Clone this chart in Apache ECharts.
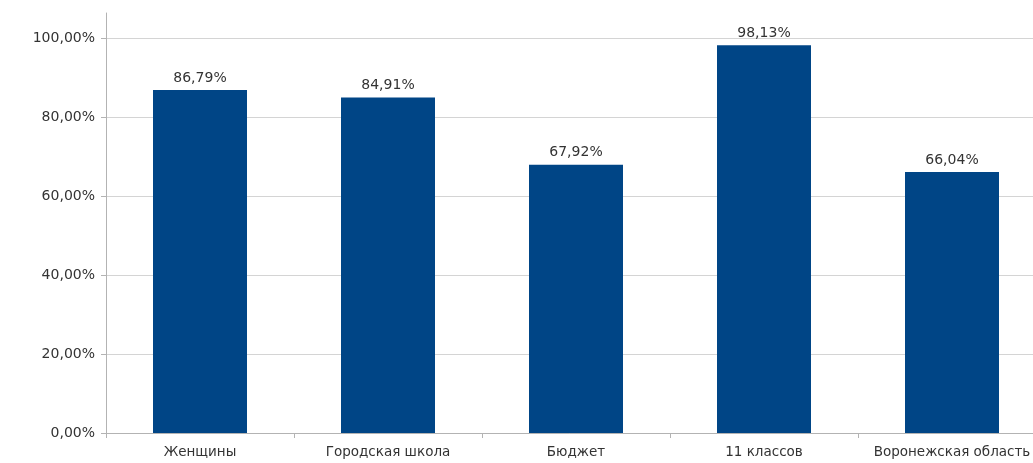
<!DOCTYPE html>
<html><head><meta charset="utf-8">
<script src="https://cdn.jsdelivr.net/npm/echarts@6/dist/echarts.min.js"></script>
<style>html,body{margin:0;padding:0;background:#fff}#c{width:1033px;height:463px}</style>
</head><body><div id="c"></div>
<script>
const categories = ['Женщины', 'Городская школа', 'Бюджет', '11 классов', 'Воронежская область'];
const values = [86.79, 84.91, 67.92, 98.13, 66.04];
const yTicks = [0, 20, 40, 60, 80, 100];

const fmt = v => v.toFixed(2).replace('.', ',') + '%';
const FONT = 'DejaVu Sans';
const chart = echarts.init(document.getElementById('c'));
chart.setOption({
  animation: false,
  grid: { left: 106, top: 13, right: -13, bottom: 30, containLabel: false, outerBoundsMode: 'none' },
  xAxis: {
    type: 'category', data: categories,
    axisLine: { lineStyle: { color: '#b3b3b3' } },
    axisTick: { show: true, interval: 0, length: 5, lineStyle: { color: '#b3b3b3' } },
    axisLabel: { interval: 0, hideOverlap: false, color: '#333', fontFamily: FONT, fontSize: 13.5, margin: 12 }
  },
  yAxis: {
    type: 'value', min: 0, max: 106.3, interval: 20,
    axisLine: { show: true, lineStyle: { color: '#b3b3b3' } },
    axisTick: { show: true, length: 5, lineStyle: { color: '#b3b3b3' } },
    splitLine: { show: true, showMaxLine: false, lineStyle: { color: '#d4d4d4' } },
    axisLabel: { showMaxLabel: false, color: '#333', fontFamily: FONT, fontSize: 14, margin: 11,
      formatter: v => yTicks.includes(v) ? fmt(v) : '' }
  },
  series: [{
    type: 'bar', data: values, barWidth: '50%',
    itemStyle: { color: '#004586' },
    label: { show: true, position: 'top', distance: 5, color: '#333', fontFamily: FONT, fontSize: 14,
      formatter: p => fmt(p.value) }
  }]
});
</script></body></html>
